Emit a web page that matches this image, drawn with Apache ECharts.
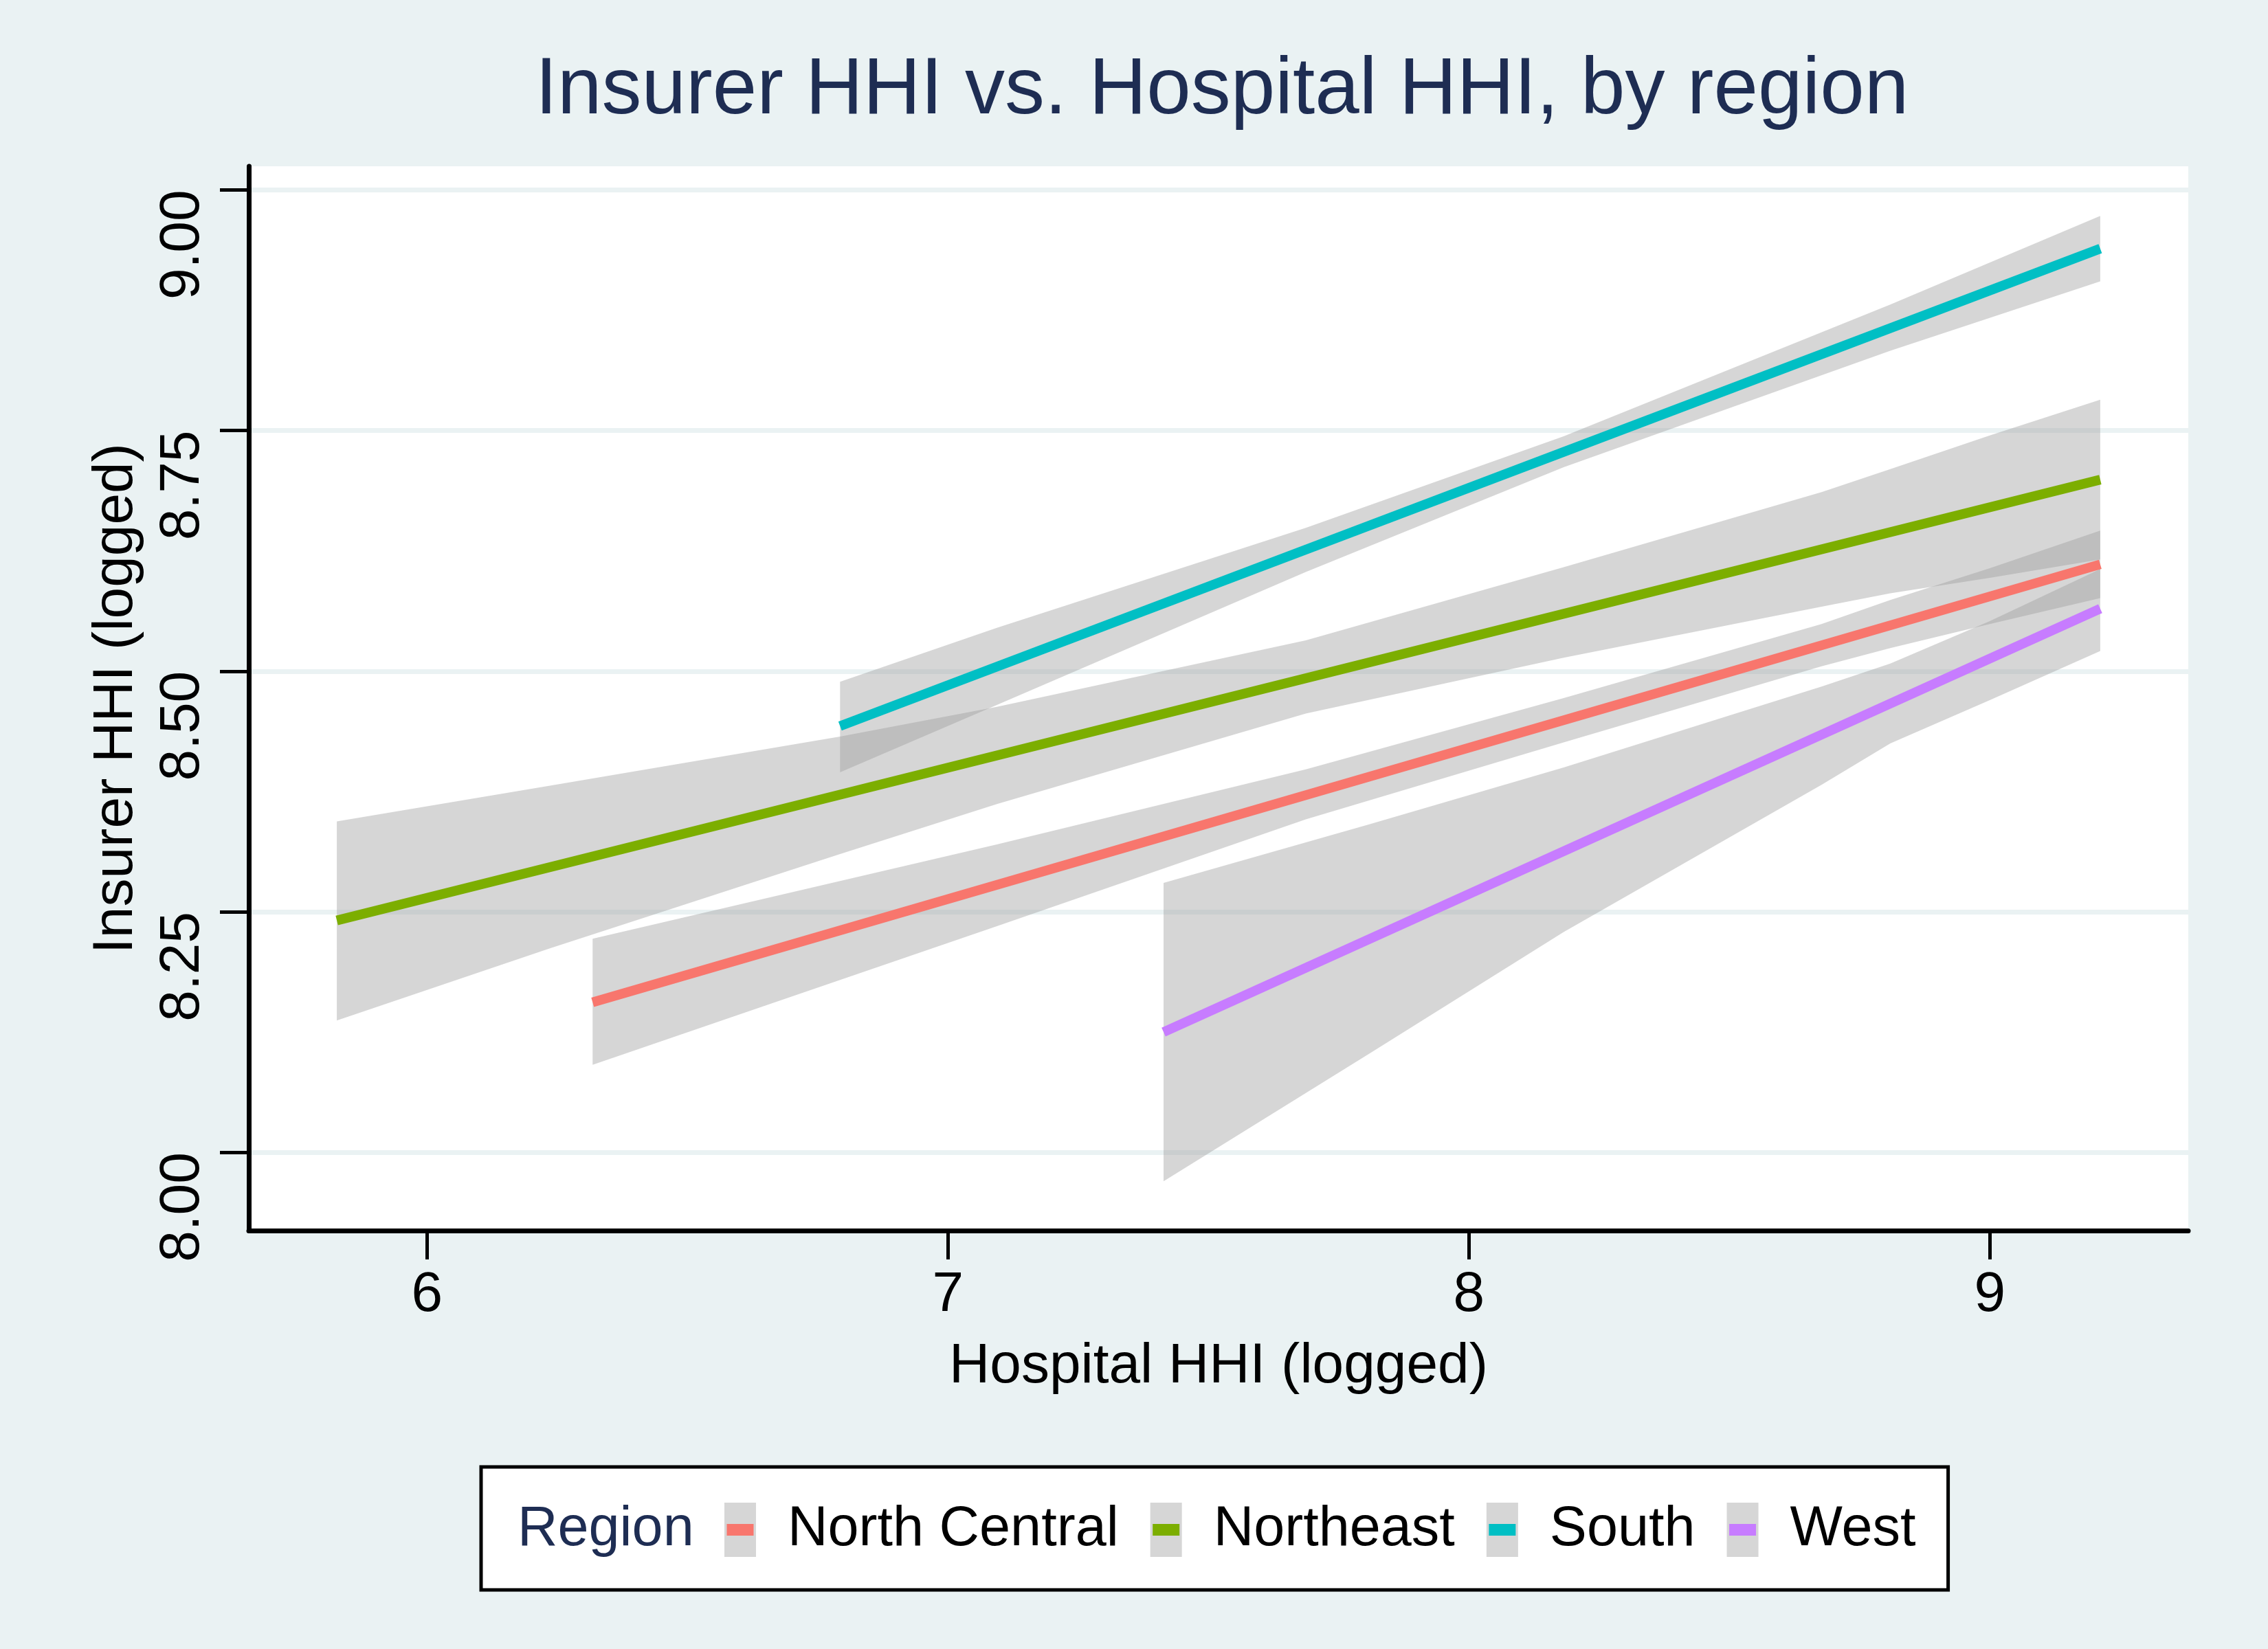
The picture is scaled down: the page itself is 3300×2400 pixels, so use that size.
<!DOCTYPE html>
<html>
<head>
<meta charset="utf-8">
<script src="https://cdn.jsdelivr.net/npm/echarts@6/dist/echarts.min.js"></script>
<style>
  html, body { margin: 0; padding: 0; background: #eaf2f3; }
  #chart { width: 3300px; height: 2400px; }
</style>
</head>
<body>
<div id="chart"></div>
<script>
// regions and their line colours
const regions = ['North Central', 'Northeast', 'South', 'West'];
const colors = ['#F8766D', '#7CAE00', '#00BFC4', '#C77CFF'];

// fitted lines, start and end of each
const fitX = [[6.318, 9.212], [5.827, 9.212], [6.793, 9.212], [7.414, 9.212]];
const fitY = [[8.156, 8.611], [8.241, 8.699], [8.443, 8.939], [8.125, 8.565]];

// confidence bands
const bandX = [
  [6.318, 7.094, 7.687, 8.182, 8.677, 8.809, 9.0, 9.212],
  [5.827, 6.236, 6.793, 7.094, 7.687, 8.182, 8.677, 8.809, 9.0, 9.212],
  [6.793, 7.094, 7.687, 8.182, 8.809, 9.212],
  [7.414, 7.810, 8.182, 8.677, 8.809, 9.0, 9.212]
];
const bandLo = [
  [8.091, 8.235, 8.346, 8.426, 8.505, 8.524, 8.549, 8.576],
  [8.137, 8.212, 8.310, 8.362, 8.456, 8.514, 8.567, 8.581, 8.597, 8.616],
  [8.395, 8.465, 8.603, 8.712, 8.833, 8.905],
  [7.970, 8.103, 8.229, 8.382, 8.425, 8.470, 8.521]
];
const bandHi = [
  [8.222, 8.320, 8.398, 8.472, 8.549, 8.574, 8.607, 8.646],
  [8.344, 8.381, 8.432, 8.463, 8.532, 8.608, 8.686, 8.710, 8.745, 8.782],
  [8.489, 8.545, 8.649, 8.744, 8.881, 8.973],
  [8.280, 8.341, 8.400, 8.484, 8.508, 8.552, 8.606]
];

const xTicks = [6, 7, 8, 9];
const yTicks = [8, 8.25, 8.5, 8.75, 9];

const font = 'Liberation Sans, Arial, sans-serif';
const bandFill = 'rgba(156,156,156,0.415)';

function bandSeries(i) {
  const rows = bandX[i].map((x, k) => [x, bandLo[i][k], bandHi[i][k]]);
  return {
    name: regions[i],
    type: 'custom',
    data: rows,
    encode: { x: 0, y: [1, 2] },
    silent: true,
    renderItem: (params, api) => {
      if (params.dataIndex !== 0) return null;
      const top = rows.map(r => api.coord([r[0], r[2]]));
      const bottom = rows.map(r => api.coord([r[0], r[1]])).reverse();
      return {
        type: 'polygon',
        shape: { points: top.concat(bottom) },
        style: { fill: bandFill }
      };
    }
  };
}

function fitSeries(i) {
  return {
    name: regions[i],
    type: 'line',
    data: fitX[i].map((x, k) => [x, fitY[i][k]]),
    symbol: 'none',
    silent: true,
    lineStyle: { color: colors[i], width: 14, cap: 'butt' },
    itemStyle: { color: colors[i] }
  };
}

// band then line for each region, like the original drawing order
const series = [];
regions.forEach((r, i) => {
  series.push(bandSeries(i));
  series.push(fitSeries(i));
});

const chart = echarts.init(document.getElementById('chart'));
chart.setOption({
  animation: false,
  backgroundColor: '#eaf2f3',
  textStyle: { fontFamily: font },
  title: {
    text: 'Insurer HHI vs. Hospital HHI, by region',
    left: 1773,
    textAlign: 'center',
    top: 70,
    textStyle: { fontSize: 116, fontWeight: 'normal', color: '#1e2d53', fontFamily: font }
  },
  grid: {
    left: 362,
    right: 116,
    top: 242,
    bottom: 609,
    show: true,
    backgroundColor: '#fff',
    borderWidth: 0,
    containLabel: false,
    outerBoundsMode: 'none'
  },
  xAxis: {
    type: 'value',
    min: 5.658,
    max: 9.381,
    name: 'Hospital HHI (logged)',
    nameLocation: 'middle',
    nameGap: 157,
    nameTextStyle: { fontSize: 82, color: '#000', fontFamily: font },
    axisLine: { show: true, onZero: false, lineStyle: { color: '#000', width: 7 } },
    axisTick: { show: true, customValues: xTicks, length: 42, lineStyle: { color: '#000', width: 5 } },
    axisLabel: { customValues: xTicks, fontSize: 82, color: '#000', margin: 53, fontFamily: font },
    splitLine: { show: false }
  },
  yAxis: {
    type: 'value',
    min: 7.9188,
    max: 9.0246,
    name: 'Insurer HHI (logged)',
    nameLocation: 'middle',
    nameGap: 152,
    nameTextStyle: { fontSize: 82, color: '#000', fontFamily: font },
    axisLine: { show: true, onZero: false, lineStyle: { color: '#000', width: 7 } },
    axisTick: { show: true, customValues: yTicks, length: 42, lineStyle: { color: '#000', width: 5 } },
    axisLabel: {
      customValues: yTicks,
      rotate: 90,
      align: 'right',
      verticalAlign: 'bottom',
      margin: 55,
      fontSize: 82,
      color: '#000',
      fontFamily: font,
      formatter: v => v.toFixed(2)
    },
    splitLine: { show: true, lineStyle: { color: '#eaf2f3', width: 7 } }
  },
  legend: [
    {
      // grey band keys with the labels, inside the framed box
      data: regions.map(n => ({ name: n, itemStyle: { color: '#d6d6d6', borderWidth: 0 } })),
      left: 700,
      top: 2135,
      orient: 'horizontal',
      icon: 'rect',
      itemWidth: 46,
      itemHeight: 79,
      itemGap: 46,
      padding: [51, 47, 47, 354],
      backgroundColor: '#fff',
      borderColor: '#000',
      borderWidth: 5,
      selectedMode: false,
      formatter: n => '{t|' + n + '}',
      textStyle: {
        fontSize: 81, color: '#000', fontFamily: font,
        rich: { t: { fontSize: 81, color: '#000', fontFamily: font, padding: [0, 0, 0, 41] } }
      }
    },
    {
      // coloured line keys laid over the grey ones
      data: regions.map((n, i) => ({ name: n, itemStyle: { color: colors[i], borderWidth: 0 } })),
      left: 700,
      top: 2135,
      z: 5,
      orient: 'horizontal',
      icon: 'rect',
      itemWidth: 39,
      itemHeight: 17,
      itemGap: 46,
      padding: [51, 47, 47, 357.5],
      selectedMode: false,
      formatter: n => '{t|' + n + '}',
      textStyle: {
        fontSize: 81, color: 'rgba(0,0,0,0)', fontFamily: font,
        rich: { t: { fontSize: 81, color: 'rgba(0,0,0,0)', fontFamily: font, padding: [0, 0, 0, 48] } }
      }
    }
  ],
  graphic: [
    {
      type: 'text',
      z: 100,
      style: {
        text: 'Region', x: 753, y: 2226.5,
        fontSize: 81, fontFamily: font, fill: '#1e2d53', verticalAlign: 'middle'
      }
    }
  ],
  series: series
});
</script>
</body>
</html>
